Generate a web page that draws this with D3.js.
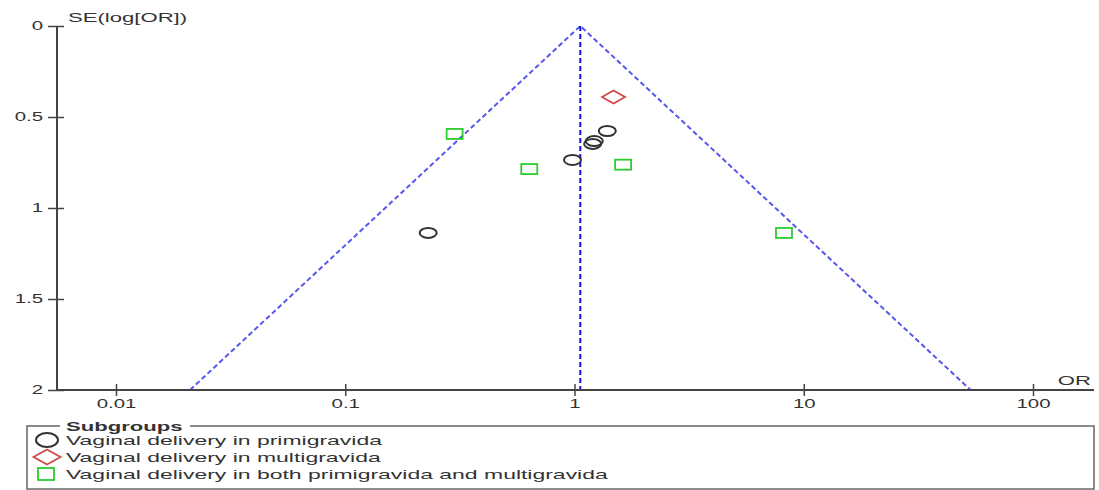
<!DOCTYPE html>
<html>
<head>
<meta charset="utf-8">
<script src="https://cdn.jsdelivr.net/npm/d3@7"></script>
<style>
  html, body { margin: 0; padding: 0; background: #fff; }
  svg { display: block; font-family: "Liberation Sans", Arial, sans-serif; }
</style>
</head>
<body>
<svg id="chart" width="1099" height="490"></svg>
<script>
// Funnel plot: odds ratios against their standard errors, by subgroup
const pooledOR = 1.06;

const primiOR = [1.39, 1.22, 1.20, 0.98, 0.23];
const primiSE = [0.577, 0.632, 0.648, 0.736, 1.137];

const multiOR = [1.48];
const multiSE = [0.39];

const bothOR = [0.30, 0.635, 1.63, 8.2];
const bothSE = [0.593, 0.786, 0.762, 1.137];

const xTicks = [0.01, 0.1, 1, 10, 100];
const xTickLabels = ["0.01", "0.1", "1", "10", "100"];
const yTicks = [0, 0.5, 1, 1.5, 2];
const yTickLabels = ["0", "0.5", "1", "1.5", "2"];

const subgroupLabels = [
  "Vaginal delivery in primigravida",
  "Vaginal delivery in multigravida",
  "Vaginal delivery in both primigravida and multigravida"
];

const STRETCH = 1.7;   // wide lettering
const textColor = "#333";
const axisColor = "#444";

const svg = d3.select("#chart");

// scales
const x0 = d3.scaleLog().domain([0.01, 100]).range([116, 1033]);
const x = d3.scaleLog().domain([x0.invert(57), x0.invert(1094)]).range([57, 1094]);
const y = d3.scaleLinear().domain([0, 2]).range([26, 390]);

// funnel (95% pseudo-confidence limits)
const seMax = 2;
const lnP = Math.log(pooledOR);
const lo = Math.exp(lnP - 1.96 * seMax);
const hi = Math.exp(lnP + 1.96 * seMax);

const funnel = svg.append("g");
funnel.append("path")
  .attr("d", d3.line()([[x(lo), y(seMax)], [x(pooledOR), y(0)], [x(hi), y(seMax)]]))
  .attr("fill", "none")
  .attr("stroke", "#5656ee")
  .attr("stroke-width", 2)
  .attr("stroke-dasharray", "5,3");
funnel.append("line")
  .attr("x1", x(pooledOR)).attr("x2", x(pooledOR))
  .attr("y1", y(0)).attr("y2", y(seMax))
  .attr("stroke", "#1414d4")
  .attr("stroke-width", 2)
  .attr("stroke-dasharray", "5,3");

// y axis
const yAxis = svg.append("g")
  .attr("transform", `translate(57,0)`)
  .call(d3.axisLeft(y).tickValues(yTicks).tickFormat((d, i) => yTickLabels[i]).tickSize(9).tickPadding(5));
yAxis.select(".domain").remove();
yAxis.selectAll(".tick line").attr("x1", 7).attr("stroke", axisColor).attr("stroke-width", 1.5);
yAxis.selectAll(".tick text").attr("font-size", 12).attr("fill", textColor).attr("font-family", "Liberation Sans, Arial, sans-serif");
svg.append("line")
  .attr("x1", 57).attr("x2", 57).attr("y1", y(0)).attr("y2", y(2))
  .attr("stroke", axisColor).attr("stroke-width", 2);

// x axis
const xAxis = svg.append("g")
  .attr("transform", `translate(0,${y(2)})`)
  .call(d3.axisBottom(x).tickValues(xTicks).tickFormat((d, i) => xTickLabels[i]).tickSize(6).tickPadding(3));
xAxis.select(".domain").remove();
xAxis.selectAll(".tick line").attr("y1", -6).attr("stroke", axisColor).attr("stroke-width", 1.5);
xAxis.selectAll(".tick text").attr("font-size", 12).attr("fill", textColor).attr("font-family", "Liberation Sans, Arial, sans-serif");
svg.append("line")
  .attr("x1", 57).attr("x2", 1094).attr("y1", y(2)).attr("y2", y(2))
  .attr("stroke", axisColor).attr("stroke-width", 2);

// axis titles
svg.append("text")
  .attr("x", 68).attr("y", 22)
  .attr("font-size", 13).attr("fill", textColor)
  .text("SE(log[OR])");
svg.append("text")
  .attr("x", 1091).attr("y", 385).attr("text-anchor", "end")
  .attr("font-size", 13).attr("fill", textColor)
  .text("OR");

// markers
function circleMark(g, cx, cy, rx, ry) {
  g.append("ellipse").attr("cx", cx).attr("cy", cy).attr("rx", rx).attr("ry", ry)
    .attr("fill", "none").attr("stroke", "#333").attr("stroke-width", 2);
}
function diamondMark(g, cx, cy, w, h) {
  g.append("path")
    .attr("d", `M${cx - w / 2},${cy}L${cx},${cy - h / 2}L${cx + w / 2},${cy}L${cx},${cy + h / 2}Z`)
    .attr("fill", "none").attr("stroke", "#d04848").attr("stroke-width", 1.8);
}
function squareMark(g, cx, cy, w, h) {
  g.append("rect").attr("x", cx - w / 2).attr("y", cy - h / 2).attr("width", w).attr("height", h)
    .attr("fill", "none").attr("stroke", "#2ccc2c").attr("stroke-width", 1.8);
}

const pts = svg.append("g");
primiOR.forEach((v, i) => circleMark(pts, x(v), y(primiSE[i]), 8.5, 5));
multiOR.forEach((v, i) => diamondMark(pts, x(v), y(multiSE[i]), 23, 13));
bothOR.forEach((v, i) => squareMark(pts, x(v), y(bothSE[i]), 16, 10));

// legend
const lg = svg.append("g");
lg.append("rect")
  .attr("x", 27).attr("y", 426).attr("width", 1067).attr("height", 63)
  .attr("fill", "none").attr("stroke", "#666").attr("stroke-width", 1.5);
lg.append("rect").attr("x", 60).attr("y", 420).attr("width", 130).attr("height", 12).attr("fill", "#fff");
lg.append("text")
  .attr("x", 66).attr("y", 431)
  .attr("font-size", 13).attr("font-weight", "bold").attr("fill", textColor)
  .text("Subgroups");

const rowY = [440, 457, 474];
circleMark(lg, 47, rowY[0], 11, 7);
diamondMark(lg, 47, rowY[1], 27, 15);
squareMark(lg, 46, rowY[2], 16, 12);
subgroupLabels.forEach((t, i) => {
  lg.append("text")
    .attr("x", 66).attr("y", rowY[i] + 5)
    .attr("font-size", 13.5).attr("fill", textColor)
    .text(t);
});

// widen all lettering horizontally
svg.selectAll("text").each(function () {
  const w = this.getComputedTextLength();
  d3.select(this).attr("textLength", w * STRETCH).attr("lengthAdjust", "spacingAndGlyphs");
});
</script>
</body>
</html>
